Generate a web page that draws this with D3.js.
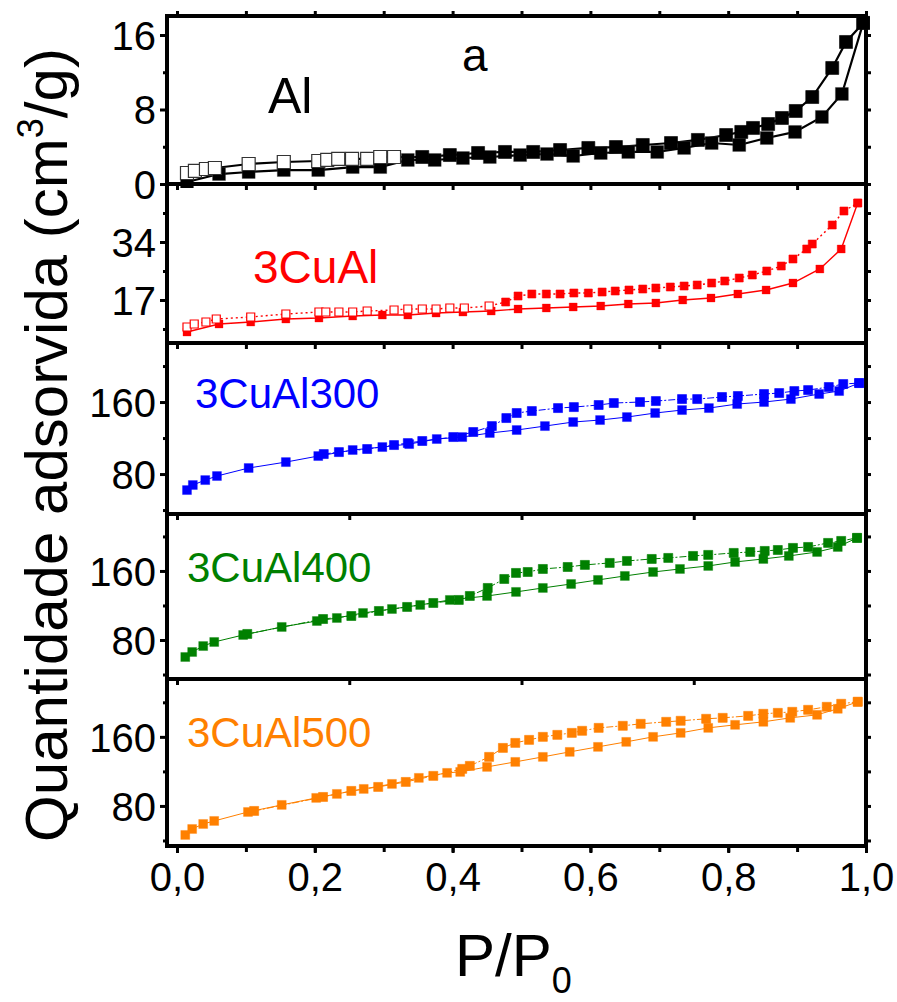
<!DOCTYPE html>
<html><head><meta charset="utf-8">
<script src="https://cdn.jsdelivr.net/npm/d3@7"></script>
<style>body{margin:0;background:#fff}svg{display:block}text{font-family:"Liberation Sans",Arial,sans-serif}</style>
</head><body><svg id="c" width="897" height="1002"></svg>
<script>
// ---------------- DATA ----------------
const xTicksMajor = [0, 0.2, 0.4, 0.6, 0.8, 1.0];
const xTickLabels = ["0,0", "0,2", "0,4", "0,6", "0,8", "1,0"];
const panelNames = ["Al", "3CuAl", "3CuAl300", "3CuAl400", "3CuAl500"];
const panelColors = ["#000000", "#ff0000", "#0000ff", "#008000", "#ff8000"];
const yTickMajor = [[0, 8, 16], [17, 34], [80, 160], [80, 160], [80, 160]];
const yTickMinor = [[4, 12], [8.5, 25.5, 42.5], [40, 120, 200], [40, 120, 200], [40, 120, 200]];
const yDomains = [[0, 18.04], [4.4, 51], [35.6, 225.6], [34.8, 226], [33.6, 227]];
const openCounts = [13, 18, 0, 0, 0];

// Al (black)
const alAds = [[0.0145,0.21],[0.061,1.07],[0.104,1.29],[0.155,1.50],[0.205,1.50],[0.255,1.82],[0.295,1.82],[0.335,2.58],[0.374,2.58],[0.415,2.79],[0.454,2.90],[0.498,3.11],[0.537,3.22],[0.575,3.01],[0.615,3.33],[0.655,3.44],[0.697,3.44],[0.736,3.87],[0.776,4.40],[0.816,4.19],[0.856,4.94],[0.897,5.59],[0.936,7.2],[0.965,9.67],[0.996,17.3]];
const alDes = [[0.0145,1.18],[0.026,1.40],[0.042,1.61],[0.055,1.72],[0.104,2.15],[0.155,2.36],[0.205,2.47],[0.218,2.58],[0.234,2.69],[0.254,2.69],[0.276,2.69],[0.295,2.90],[0.315,2.90],[0.356,2.90],[0.396,3.11],[0.437,3.33],[0.476,3.44],[0.517,3.44],[0.556,3.65],[0.597,3.87],[0.637,3.97],[0.676,4.19],[0.717,4.40],[0.756,4.73],[0.797,5.26],[0.819,5.59],[0.836,6.02],[0.858,6.44],[0.878,7.09],[0.898,7.84],[0.922,9.34],[0.951,12.46],[0.971,15.25],[0.996,17.3]];
// 3CuAl (red)
const cuAds = [[0.0145,7.62],[0.061,9.97],[0.107,10.55],[0.158,11.43],[0.206,11.72],[0.255,12.31],[0.298,12.60],[0.335,12.60],[0.376,13.19],[0.415,13.48],[0.456,13.78],[0.495,14.36],[0.536,14.66],[0.575,14.95],[0.615,15.24],[0.655,15.83],[0.695,16.12],[0.734,17.00],[0.775,17.59],[0.814,18.76],[0.855,19.93],[0.894,21.98],[0.933,26.09],[0.964,31.95],[0.988,45.43]];
const cuDes = [[0.0145,9.09],[0.025,9.97],[0.042,10.55],[0.057,11.43],[0.107,12.02],[0.158,12.90],[0.206,13.48],[0.216,13.48],[0.235,13.48],[0.255,13.48],[0.276,13.78],[0.315,14.07],[0.335,14.36],[0.356,14.36],[0.376,14.36],[0.396,14.66],[0.417,14.66],[0.453,15.24],[0.477,16.41],[0.495,18.17],[0.515,18.76],[0.536,18.76],[0.556,18.76],[0.576,19.05],[0.597,19.05],[0.617,19.34],[0.636,19.64],[0.656,19.93],[0.676,20.22],[0.695,20.52],[0.716,20.81],[0.736,21.10],[0.755,21.40],[0.776,21.98],[0.795,22.57],[0.816,23.45],[0.835,24.33],[0.856,25.50],[0.877,26.96],[0.894,29.02],[0.914,31.95],[0.922,33.41],[0.951,38.98],[0.968,43.08],[0.988,45.43]];
// 3CuAl300 (blue)
const c300Ads = [[0.0145,62.2],[0.023,67.8],[0.041,73.3],[0.058,77.8],[0.104,86.7],[0.158,93.3],[0.205,100],[0.255,106.7],[0.298,110],[0.337,113.3],[0.377,118.9],[0.414,121.1],[0.454,125.6],[0.493,128.9],[0.534,133.3],[0.575,137.8],[0.614,140],[0.653,143.3],[0.694,147.8],[0.733,151.1],[0.772,153.3],[0.813,157.8],[0.852,160],[0.891,163.3],[0.932,168.9],[0.961,172.2],[0.99,181.1]];
const c300Des = [[0.213,102.2],[0.235,104.4],[0.276,107.8],[0.315,112.2],[0.335,114.4],[0.356,116.7],[0.401,121.1],[0.43,126.7],[0.457,133.3],[0.478,142.2],[0.493,147.8],[0.515,150],[0.553,153.3],[0.576,154.4],[0.612,156.7],[0.634,158.9],[0.672,160],[0.695,161.1],[0.733,163.3],[0.755,163.3],[0.791,165.6],[0.814,166.7],[0.852,168.9],[0.874,170],[0.896,172.2],[0.916,173.3],[0.946,176.7],[0.967,180],[0.99,181.1]];
// 3CuAl400 (green)
const c400Ads = [[0.012,60.3],[0.022,66.1],[0.038,73.0],[0.054,77.7],[0.096,85.8],[0.152,95.1],[0.203,102.0],[0.232,105.5],[0.270,111.3],[0.312,115.9],[0.353,120.6],[0.396,126.4],[0.450,131.0],[0.492,135.7],[0.531,140.3],[0.572,144.9],[0.611,149.6],[0.650,154.2],[0.691,158.8],[0.730,162.3],[0.771,165.8],[0.810,170.4],[0.851,173.9],[0.888,177.4],[0.929,182.0],[0.959,187.8],[0.987,198.3]];
const c400Des = [[0.102,87.0],[0.212,104.3],[0.253,107.8],[0.293,113.6],[0.334,118.3],[0.372,122.9],[0.409,126.4],[0.425,131.0],[0.451,140.3],[0.475,150.7],[0.492,157.7],[0.509,158.8],[0.531,162.3],[0.567,164.6],[0.592,167.0],[0.628,169.3],[0.653,171.6],[0.689,173.9],[0.713,175.1],[0.749,177.4],[0.771,178.6],[0.808,180.9],[0.832,182.0],[0.853,183.2],[0.872,184.3],[0.894,186.7],[0.916,187.8],[0.945,192.5],[0.964,194.8],[0.987,198.3]];
// 3CuAl500 (orange)
const c500Ads = [[0.012,46.4],[0.022,53.3],[0.038,59.1],[0.054,62.6],[0.103,73.0],[0.152,81.2],[0.202,89.3],[0.232,93.9],[0.271,99.7],[0.312,105.5],[0.351,112.5],[0.392,118.3],[0.411,119.4],[0.450,125.2],[0.491,131.0],[0.531,136.8],[0.570,142.6],[0.611,148.4],[0.652,154.2],[0.691,160.0],[0.731,164.6],[0.771,170.4],[0.810,173.9],[0.851,177.4],[0.890,182.0],[0.929,185.5],[0.959,192.5],[0.988,200.6]];
const c500Des = [[0.112,74.2],[0.212,90.4],[0.253,97.4],[0.292,102.0],[0.332,107.8],[0.372,114.8],[0.414,122.9],[0.425,126.4],[0.453,136.8],[0.473,147.2],[0.491,153.0],[0.511,156.5],[0.531,160.0],[0.552,162.3],[0.573,164.6],[0.588,167.0],[0.612,170.4],[0.647,172.8],[0.673,175.1],[0.710,177.4],[0.731,178.6],[0.768,180.9],[0.792,182.0],[0.829,184.3],[0.851,186.7],[0.872,187.8],[0.893,189.0],[0.916,191.3],[0.943,194.8],[0.964,198.3],[0.988,200.6]];

const adsSeries = [alAds, cuAds, c300Ads, c400Ads, c500Ads];
const desSeries = [alDes, cuDes, c300Des, c400Des, c500Des];

// ---------------- LAYOUT ----------------
const frameLeft = 167, frameRight = 866;
const panelY = [[16, 184], [184, 343], [343, 514], [514, 679], [679, 846]];
const markerSize = [13, 8, 9, 9, 9];
const lineW = [2.2, 1.4, 1, 1, 1];
const desDash = [null, "2,3", "7,2,2,2", "7,2,2,2", "7,2,2,2"];
const xMinorStep = [0.1, 0.1, 0.25, 0.25, 0.1];
const labelPos = [[268, 113, 50], [253, 283, 46], [195, 408, 42], [187, 582, 42], [187, 747, 42]];

const svg = d3.select("#c");
const x = d3.scaleLinear().domain([0, 1]).range([177, 866]);

panelNames.forEach((name, i) => {
  const [top, bot] = panelY[i];
  const y = d3.scaleLinear().domain(yDomains[i]).range([bot, top]);
  const g = svg.append("g");
  const col = panelColors[i];
  const clipId = "clip" + i;
  svg.append("clipPath").attr("id", clipId).append("rect")
    .attr("x", frameLeft).attr("y", top - 4).attr("width", frameRight - frameLeft + 4).attr("height", bot - top + 8);

  const xt = d3.range(0, 1.0001, xMinorStep[i]);
  const axB = d3.axisBottom(x).tickValues(xt).tickSize(6).tickFormat("");
  const axT = d3.axisTop(x).tickValues(xt).tickSize(5).tickFormat("");
  g.append("g").attr("transform", `translate(0,${bot})`).call(axB).call(s => s.select(".domain").remove());
  if (i === 0) g.append("g").attr("transform", `translate(0,${top})`).call(axT).call(s => s.select(".domain").remove());
  const axL = d3.axisLeft(y).tickValues(yTickMajor[i]).tickSize(7).tickPadding(4);
  const gl = g.append("g").attr("transform", `translate(${frameLeft},0)`).call(axL);
  gl.select(".domain").remove();
  gl.selectAll("text").attr("font-size", 40).attr("fill", "#000").attr("font-family", "Liberation Sans, Arial, sans-serif").attr("dy", "0.36em");
  g.append("g").attr("transform", `translate(${frameLeft},0)`).call(d3.axisLeft(y).tickValues(yTickMinor[i]).tickSize(4).tickFormat("")).call(s => s.select(".domain").remove());
  g.append("g").attr("transform", `translate(${frameRight},0)`).call(d3.axisRight(y).tickValues(yTickMajor[i].concat(yTickMinor[i])).tickSize(5).tickFormat("")).call(s => s.select(".domain").remove());
  g.selectAll(".tick line").attr("stroke", "#000").attr("stroke-width", 3);

  g.append("rect").attr("x", frameLeft).attr("y", top).attr("width", frameRight - frameLeft).attr("height", bot - top)
    .attr("fill", "none").attr("stroke", "#000").attr("stroke-width", 4);

  const line = d3.line().x(d => x(d[0])).y(d => y(d[1]));
  const plot = svg.append("g").attr("clip-path", `url(#${clipId})`);
  plot.append("path").datum(adsSeries[i]).attr("d", line).attr("fill", "none").attr("stroke", col).attr("stroke-width", lineW[i]);
  plot.append("path").datum(desSeries[i]).attr("d", line).attr("fill", "none").attr("stroke", col).attr("stroke-width", lineW[i])
    .attr("stroke-dasharray", desDash[i]);
  const ms = markerSize[i];
  const sym = d3.symbol().type(d3.symbolSquare).size(ms * ms);
  plot.selectAll(".ma").data(adsSeries[i]).join("path").attr("d", sym)
    .attr("transform", d => `translate(${x(d[0])},${y(d[1])})`).attr("fill", col)
    .attr("stroke", i === 0 ? "#444" : col).attr("stroke-width", 0.6).attr("stroke-opacity", 0.5);
  plot.selectAll(".md").data(desSeries[i]).join("path").attr("d", sym)
    .attr("transform", d => `translate(${x(d[0])},${y(d[1])})`)
    .attr("fill", (d, k) => k < openCounts[i] ? "#fff" : col)
    .attr("stroke", (d, k) => k < openCounts[i] ? (i === 0 ? "#333" : col) : col)
    .attr("stroke-width", (d, k) => k < openCounts[i] ? 1.2 : 0.6);

  const lp = labelPos[i];
  svg.append("text").attr("x", lp[0]).attr("y", lp[1]).attr("font-size", lp[2]).attr("fill", col).text(name);
});

const xb = svg.append("g").attr("transform", `translate(0,${panelY[4][1]})`)
  .call(d3.axisBottom(x).tickValues(xTicksMajor).tickSize(7).tickPadding(10).tickFormat((d, k) => xTickLabels[k]));
xb.select(".domain").remove();
xb.selectAll(".tick line").attr("stroke", "#000").attr("stroke-width", 3);
xb.selectAll("text").attr("font-size", 40).attr("fill", "#000").attr("font-family", "Liberation Sans, Arial, sans-serif");

svg.append("text").attr("x", 462).attr("y", 71).attr("font-size", 46).text("a");

const yl = svg.append("text").attr("transform", "translate(67,445) rotate(-90)").attr("text-anchor", "middle").attr("font-size", 60);
yl.append("tspan").text("Quantidade adsorvida (cm");
yl.append("tspan").attr("font-size", 36).attr("dy", -24).text("3");
yl.append("tspan").attr("dy", 24).text("/g)");

const xl = svg.append("text").attr("x", 455).attr("y", 976).attr("font-size", 60);
xl.append("tspan").text("P/P");
xl.append("tspan").attr("font-size", 36).attr("dy", 17).text("0");
</script></body></html>
